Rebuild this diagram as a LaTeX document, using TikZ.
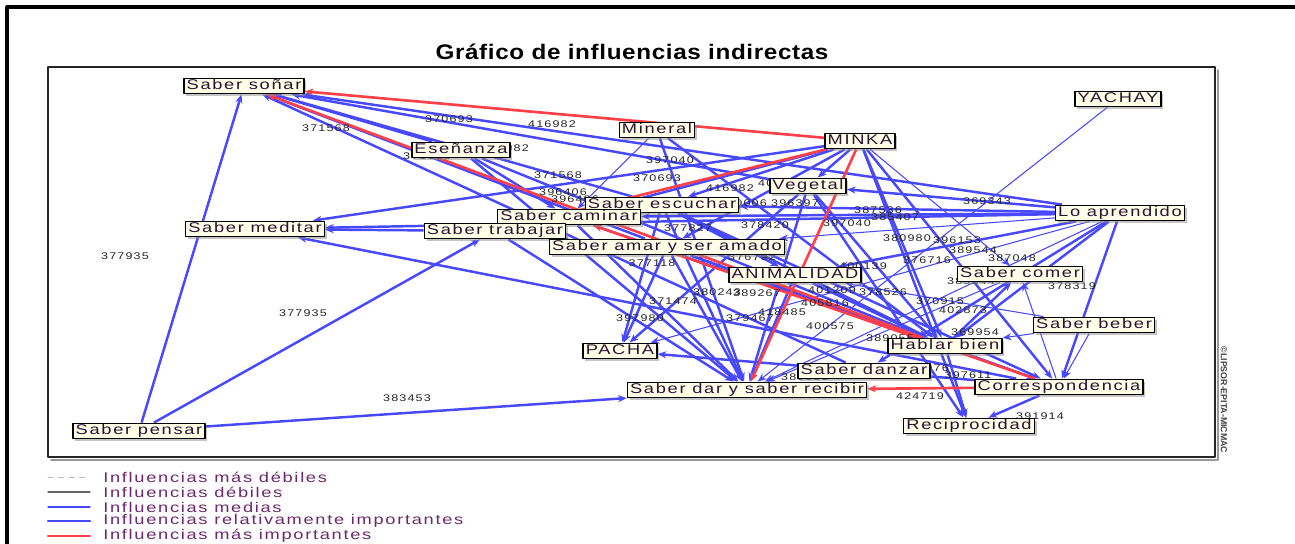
\documentclass[tikz,border=0pt]{standalone}
\usepackage{fontspec}
\setmainfont{Liberation Sans}
\newfontfamily\widefont[FakeStretch=1.3,LetterSpace=12]{Liberation Sans}
\newfontfamily\headfont[FakeStretch=1.15,LetterSpace=3]{Liberation Sans}
\usetikzlibrary{arrows.meta,shadows}
\definecolor{edgeblue}{RGB}{72,72,255}
\definecolor{edgered}{RGB}{255,64,72}
\definecolor{boxfill}{RGB}{255,255,232}
\definecolor{boxtext}{RGB}{45,15,50}
\definecolor{keytext}{RGB}{110,40,110}
\pgfdeclarelayer{edges}
\pgfdeclarelayer{nums}
\pgfsetlayers{edges,nums,main}

\begin{document}
\begin{tikzpicture}[x=0.02cm, y=-0.02cm, line join=round, line cap=round,
  >={Stealth[length=5pt,width=4pt]},
  var/.style={draw=black, line width=0.8pt, fill=boxfill, text=boxtext,
    font=\widefont\fontsize{8}{9}\selectfont, inner xsep=1.5pt, inner ysep=0.6pt,
    text height=6pt, text depth=1.6pt,
    drop shadow={shadow xshift=1.3pt, shadow yshift=-1.3pt, fill=black!45}},
  num/.style={font=\widefont\fontsize{5.5}{6}\selectfont, text=black!85, inner sep=0pt},
  imp/.style={->, draw=edgered, line width=1.5pt},
  rel/.style={->, draw=edgeblue, line width=1.4pt},
  med/.style={->, draw=edgeblue, line width=0.6pt},
  key/.style={font=\widefont\fontsize{8}{8.5}\selectfont, text=keytext, anchor=west, inner sep=0pt}]
\useasboundingbox (0,0) rectangle (1295,544);

% frames
\draw[line width=1.8pt] (7,544) -- (7,7) -- (1295,7);
\draw[black!40, line width=1pt] (1218,70) -- (1218,460) -- (51,460);
\draw[black!85, line width=0.9pt] (48,67) rectangle (1215,457);
\node[font=\headfont\bfseries\fontsize{12}{14}\selectfont] (title) at (632,52) {Gráfico de influencias indirectas};
\node[rotate=-90, font=\bfseries\fontsize{5}{6}\selectfont, text=black!75, inner sep=0pt] (mark) at (1224,400) {©LIPSOR-EPITA-MICMAC};

% variables
\node[var] (sonar) at (244,86) {Saber soñar};
\node[var] (yachay) at (1118,99) {YACHAY};
\node[var] (min) at (657,130) {Mineral};
\node[var] (minka) at (860,141) {MINKA};
\node[var] (ens) at (461,150) {Eseñanza};
\node[var] (veg) at (808,186) {Vegetal};
\node[var] (esc) at (662,205) {Saber escuchar};
\node[var] (lo) at (1120,213) {Lo aprendido};
\node[var] (cam) at (569,217) {Saber caminar};
\node[var] (med) at (255,229) {Saber meditar};
\node[var] (trab) at (495,231) {Saber trabajar};
\node[var] (amar) at (667,247) {Saber amar y ser amado};
\node[var] (anim) at (795,275) {ANIMALIDAD};
\node[var] (comer) at (1020,274) {Saber comer};
\node[var] (beber) at (1094,325) {Saber beber};
\node[var] (hab) at (945,346) {Hablar bien};
\node[var] (pacha) at (620,351) {PACHA};
\node[var] (danzar) at (864,371) {Saber danzar};
\node[var] (corr) at (1059,387) {Correspondencia};
\node[var] (dar) at (747,390) {Saber dar y saber recibir};
\node[var] (rec) at (969,426) {Reciprocidad};
\node[var] (pensar) at (139,431) {Saber pensar};

% influences
\begin{pgfonlayer}{edges}
\foreach \a/\b in {yachay/dar, min/cam, beber/corr, beber/hab, corr/comer, lo/dar,
  minka/comer, lo/amar, comer/dar, lo/pacha, beber/anim}
  \draw[med] (\a) -- (\b);
\foreach \a/\b in {lo/sonar, veg/sonar, esc/sonar, danzar/sonar, ens/sonar, amar/sonar,
  pensar/sonar, minka/med, lo/med, trab/med, corr/med, pensar/trab, pensar/dar,
  ens/dar, trab/dar, cam/dar, esc/dar, amar/dar, min/dar, veg/dar, anim/dar,
  minka/hab, minka/rec, esc/hab, amar/hab, ens/hab, cam/hab, veg/hab, lo/hab,
  anim/hab, hab/rec, corr/rec, veg/rec, lo/corr, minka/corr, esc/corr, lo/cam,
  lo/esc, lo/veg, minka/esc, minka/amar, minka/cam, esc/pacha, amar/pacha,
  veg/pacha, corr/pacha, hab/comer, lo/anim, lo/danzar, esc/anim, minka/veg,
  ens/cam, amar/corr, min/hab}
  \draw[rel] (\a) -- (\b);
\foreach \a/\b in {minka/sonar, hab/sonar, minka/dar, corr/dar, corr/cam, minka/trab}
  \draw[imp] (\a) -- (\b);
\end{pgfonlayer}

% values
\begin{pgfonlayer}{nums}
\foreach \x/\y/\t [count=\i] in {326/128/371568, 449/119/370693, 552/124/416982,
  505/148/416982, 427/156/371568, 558/175/371568, 563/192/396406, 575/199/396406,
  670/160/397040, 657/178/370693, 730/188/416982, 782/183/400139, 743/203/400006,
  795/203/396397, 688/228/377827, 765/225/378420, 652/263/377118, 752/257/376792,
  717/292/380243, 757/293/389267, 673/301/371474, 640/318/397980, 750/318/379467,
  782/312/418485, 825/303/405816, 832/290/401209, 883/292/378526, 830/326/400575,
  890/338/389055, 863/266/400139, 878/210/387536, 895/217/385407, 847/223/397040,
  907/238/380980, 957/240/396153, 973/250/389544, 927/260/376716, 1012/258/387048,
  987/201/369343, 1072/286/378319, 971/281/389544, 940/301/370915, 963/310/402873,
  975/332/369954, 925/368/385076, 968/375/397611, 920/396/424719, 1040/416/391914,
  805/377/389055, 407/398/383453, 125/256/377935, 303/313/377935}
  \node[num] (v\i) at (\x,\y) {\t};
\end{pgfonlayer}

% legend
\draw[dashed, black!25, line width=0.5pt] (48,477) -- (90,477);
\draw[black!60, line width=0.6pt] (48,492) -- (90,492);
\draw[edgeblue, line width=0.6pt] (48,507) -- (90,507);
\draw[edgeblue, line width=1.4pt] (48,521) -- (90,521);
\draw[edgered, line width=1.4pt] (48,536) -- (90,536);
\node[key] (k1) at (103,477) {Influencias más débiles};
\node[key] (k2) at (103,492) {Influencias débiles};
\node[key] (k3) at (103,507) {Influencias medias};
\node[key] (k4) at (103,521) {Influencias relativamente importantes};
\node[key] (k5) at (103,536) {Influencias más importantes};
\end{tikzpicture}
\end{document}
